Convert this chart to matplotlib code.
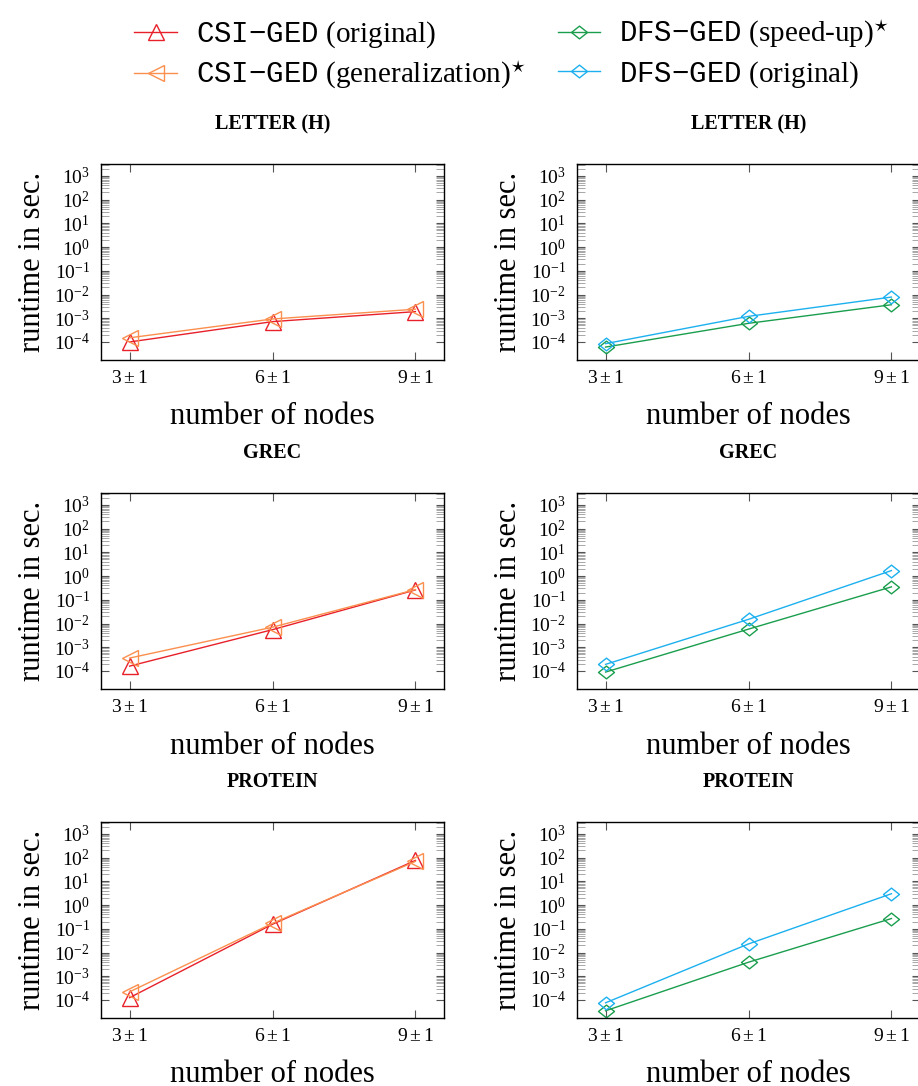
import matplotlib
matplotlib.use('Agg')
import matplotlib.pyplot as plt
from matplotlib.path import Path
from matplotlib.ticker import FixedLocator, NullFormatter

plt.rcParams['font.family'] = ['Liberation Serif', 'DejaVu Serif']
plt.rcParams['mathtext.fontset'] = 'custom'
plt.rcParams['mathtext.rm'] = 'Liberation Serif'
plt.rcParams['mathtext.it'] = 'Liberation Serif:italic'
plt.rcParams['mathtext.bf'] = 'Liberation Serif:bold'
plt.rcParams['mathtext.tt'] = 'Liberation Mono'

# x categories
nodes = [3, 6, 9]
node_labels = [r'$3\pm1$', r'$6\pm1$', r'$9\pm1$']
titles = ['LETTER (H)', 'GREC', 'PROTEIN']

# runtimes in seconds
letter_csi_orig = [1.0e-4, 7.2e-4, 1.9e-3]
letter_csi_gen = [1.5e-4, 9.3e-4, 2.4e-3]
letter_dfs_speed = [6.1e-5, 6.1e-4, 3.7e-3]
letter_dfs_orig = [8.5e-5, 1.2e-3, 7.8e-3]

grec_csi_orig = [1.6e-4, 5.5e-3, 0.26]
grec_csi_gen = [3.5e-4, 7.0e-3, 0.27]
grec_dfs_speed = [9.0e-5, 5.8e-3, 0.35]
grec_dfs_orig = [1.9e-4, 1.5e-2, 1.7]

protein_csi_orig = [1.25e-4, 0.155, 76]
protein_csi_gen = [2.2e-4, 0.17, 69]
protein_dfs_speed = [3.5e-5, 3.9e-3, 0.27]
protein_dfs_orig = [7.6e-5, 0.023, 3.0]

csi_rows = [(letter_csi_orig, letter_csi_gen),
            (grec_csi_orig, grec_csi_gen),
            (protein_csi_orig, protein_csi_gen)]
dfs_rows = [(letter_dfs_speed, letter_dfs_orig),
            (grec_dfs_speed, grec_dfs_orig),
            (protein_dfs_speed, protein_dfs_orig)]

labels = [r'$\mathtt{CSI{-}GED}$ (original)',
          r'$\mathtt{CSI{-}GED}$ (generalization)$^{\star}$',
          r'$\mathtt{DFS{-}GED}$ (speed-up)$^{\star}$',
          r'$\mathtt{DFS{-}GED}$ (original)']
RED, ORANGE, GREEN, BLUE = '#e8202a', '#fb8f4e', '#1a9e4e', '#1cb0ee'

# pgfplots-like diamond: a bit wider than tall
diamond = Path([(-1, 0), (0, 0.8), (1, 0), (0, -0.8), (-1, 0)],
               [Path.MOVETO, Path.LINETO, Path.LINETO, Path.LINETO, Path.CLOSEPOLY])

W, H = 918, 1086
fig = plt.figure(figsize=(W / 100, H / 100), dpi=100)

col_x = [101, 577]
row_top = [164, 493, 822]
ax_w, ax_h = 343, 196

minors = [k * 10.0 ** e for e in range(-4, 4) for k in range(2, 10)]


def style_axes(ax, title):
    ax.set_yscale('log')
    ax.set_xlim(2.4, 9.6)
    ax.set_ylim(10 ** -4.76, 10 ** 3.5)
    ax.set_xticks(nodes)
    ax.set_xticklabels(node_labels, fontsize=14)
    ax.yaxis.set_major_locator(FixedLocator([10.0 ** e for e in range(-4, 4)]))
    ax.set_yticklabels([r'$10^{%d}$' % e for e in range(-4, 4)], fontsize=14)
    ax.yaxis.set_minor_locator(FixedLocator(minors))
    ax.yaxis.set_minor_formatter(NullFormatter())
    ax.tick_params(which='major', direction='in', top=True, right=True,
                   length=6, width=0.8, color='#555555')
    ax.tick_params(axis='x', pad=7)
    ax.tick_params(axis='y', which='major', pad=8)
    ax.tick_params(which='minor', direction='in', right=True, length=5.5,
                   width=0.6, color='#999999')
    ax.tick_params(axis='x', which='minor', bottom=False, top=False)
    for sp in ax.spines.values():
        sp.set_linewidth(1.0)
    ax.text(0.5, 1 + 40 / ax_h, title, transform=ax.transAxes, ha='center',
            va='center', fontsize=14.5, fontweight='bold')
    ax.text(0.5, -57 / ax_h, 'number of nodes', transform=ax.transAxes,
            ha='center', va='center', fontsize=22)
    ax.text(-68 / ax_w, 0.5, 'runtime in sec.', transform=ax.transAxes,
            ha='center', va='center', rotation=90, fontsize=22)


handles = []
for r in range(3):
    y0 = 1 - (row_top[r] + ax_h) / H
    axl = fig.add_axes([col_x[0] / W, y0, ax_w / W, ax_h / H])
    axr = fig.add_axes([col_x[1] / W, y0, ax_w / W, ax_h / H])
    style_axes(axl, titles[r])
    style_axes(axr, titles[r])

    orig, gen = csi_rows[r]
    l1, = axl.plot(nodes, orig, color=RED, marker='^', ms=11, mfc='none',
                   mew=1.0, lw=1.0)
    l2, = axl.plot(nodes, gen, color=ORANGE, marker='<', ms=11, mfc='none',
                   mew=1.0, lw=1.0)
    speed, dorig = dfs_rows[r]
    l3, = axr.plot(nodes, speed, color=GREEN, marker=diamond, ms=11.5,
                   mfc='none', mew=1.0, lw=1.0)
    l4, = axr.plot(nodes, dorig, color=BLUE, marker=diamond, ms=11.5,
                   mfc='none', mew=1.0, lw=1.0)
    if r == 0:
        handles = [l1, l2, l3, l4]

fig.legend(handles, labels, loc='upper left', ncol=2, frameon=False,
           bbox_to_anchor=(114 / W, 1 + 2 / H), fontsize=21,
           handlelength=1.45, handletextpad=0.65, columnspacing=1.1,
           labelspacing=0.3, borderpad=0.2)

fig.savefig('out.png', dpi=100)
